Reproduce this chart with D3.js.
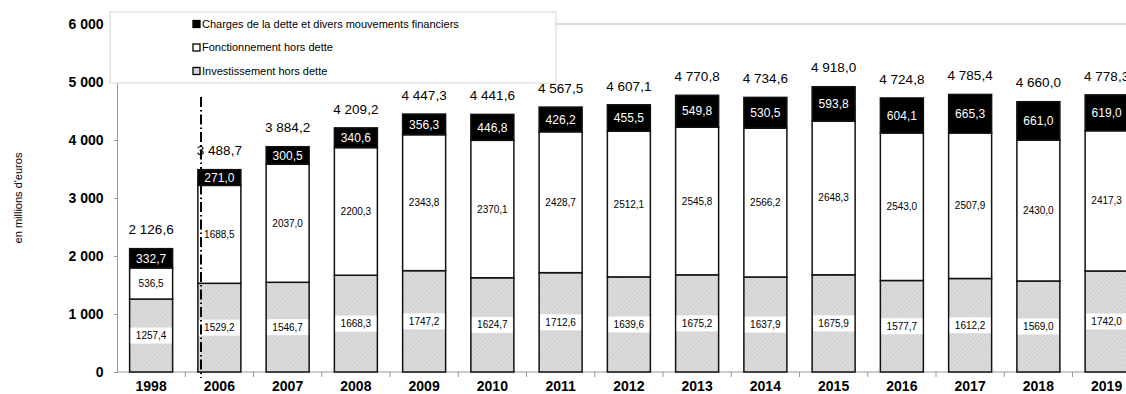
<!DOCTYPE html>
<html>
<head>
<meta charset="utf-8">
<script src="https://cdn.jsdelivr.net/npm/d3@7"></script>
<style>
  body { margin: 0; background: #fff; }
  svg { font-family: "Liberation Sans", Arial, sans-serif; display: block; }
</style>
</head>
<body>
<div id="chart"></div>
<script>
const width = 1126,
  height = 394

// data
const years = ["1998", "2006", "2007", "2008", "2009", "2010", "2011", "2012", "2013", "2014", "2015", "2016", "2017", "2018", "2019"]
const invest = [1257.4, 1529.2, 1546.7, 1668.3, 1747.2, 1624.7, 1712.6, 1639.6, 1675.2, 1637.9, 1675.9, 1577.7, 1612.2, 1569.0, 1742.0]
const fonct = [536.5, 1688.5, 2037.0, 2200.3, 2343.8, 2370.1, 2428.7, 2512.1, 2545.8, 2566.2, 2648.3, 2543.0, 2507.9, 2430.0, 2417.3]
const charges = [332.7, 271.0, 300.5, 340.6, 356.3, 446.8, 426.2, 455.5, 549.8, 530.5, 593.8, 604.1, 665.3, 661.0, 619.0]
const totals = [2126.6, 3488.7, 3884.2, 4209.2, 4447.3, 4441.6, 4567.5, 4607.1, 4770.8, 4734.6, 4918.0, 4724.8, 4785.4, 4660.0, 4778.3]
const yTicks = [0, 1000, 2000, 3000, 4000, 5000, 6000]
const legendItems = [
  ["charges", "Charges de la dette et divers mouvements financiers"],
  ["fonct", "Fonctionnement hors dette"],
  ["invest", "Investissement hors dette"]
]

const fr = d3.formatLocale({ decimal: ",", thousands: " ", grouping: [3], currency: ["", " €"] })
const fmtTotal = fr.format(",.1f")
const fmtSeg = fr.format(".1f")
const fmtTick = fr.format(",d")

const svg = d3.select("#chart").append("svg")
  .attr("width", width)
  .attr("height", height)

// hatch pattern for investissement
const defs = svg.append("defs")
const pat = defs.append("pattern")
  .attr("id", "hatch")
  .attr("patternUnits", "userSpaceOnUse")
  .attr("width", 3)
  .attr("height", 3)
  .attr("patternTransform", "rotate(45)")
pat.append("rect").attr("width", 3).attr("height", 3).attr("fill", "#dcdcdc")
pat.append("line").attr("x1", 0).attr("y1", 0).attr("x2", 0).attr("y2", 3)
  .attr("stroke", "#c2c2c2").attr("stroke-width", 1)

const fills = { invest: "url(#hatch)", fonct: "#fff", charges: "#000" }

const y = d3.scaleLinear().domain([0, 6000]).range([372, 24])
const x = d3.scaleBand()
  .domain(years)
  .range([117, 117 + 15 * 68.25])
  .paddingInner(0.37)
  .paddingOuter(0.185)

// top border line
svg.append("line")
  .attr("x1", 117).attr("x2", width)
  .attr("y1", y(6000)).attr("y2", y(6000))
  .attr("stroke", "#cfcfcf").attr("stroke-width", 1.5)

// y axis
const yAxis = svg.append("g")
  .attr("transform", "translate(117,0)")
  .call(d3.axisLeft(y).tickValues(yTicks).tickSize(3).tickFormat(fmtTick))
yAxis.select(".domain").attr("stroke", "#999")
yAxis.selectAll(".tick line").attr("stroke", "#999")
yAxis.selectAll(".tick text")
  .attr("x", -13.5)
  .attr("font-size", 14)
  .attr("font-weight", "bold")
  .attr("fill", "#000")
  .attr("font-family", "Liberation Sans, Arial, sans-serif")

// x axis
const xg = svg.append("g").attr("transform", "translate(0,372)")
xg.append("line")
  .attr("x1", 117).attr("x2", width)
  .attr("stroke", "#999").attr("stroke-width", 1)
xg.selectAll(".xtick")
  .data(years.slice(1))
  .join("line")
  .attr("x1", d => x(d) - x.step() * x.paddingInner() / 2)
  .attr("x2", d => x(d) - x.step() * x.paddingInner() / 2)
  .attr("y1", 0).attr("y2", 5)
  .attr("stroke", "#999")
xg.selectAll(".xlabel")
  .data(years)
  .join("text")
  .attr("x", d => x(d) + x.bandwidth() / 2)
  .attr("y", 18.5)
  .attr("text-anchor", "middle")
  .attr("font-size", 14)
  .attr("font-weight", "bold")
  .text(d => d)

// axis title
svg.append("text")
  .attr("transform", "translate(22,198) rotate(-90)")
  .attr("text-anchor", "middle")
  .attr("font-size", 11)
  .text("en millions d'euros")

// stacked bars
const rows = years.map((yr, i) => ({ year: yr, invest: invest[i], fonct: fonct[i], charges: charges[i], total: totals[i] }))
const stack = d3.stack().keys(["invest", "fonct", "charges"])(rows)

const bars = svg.append("g")
stack.forEach(layer => {
  bars.selectAll(".seg-" + layer.key)
    .data(layer)
    .join("rect")
    .attr("x", d => x(d.data.year))
    .attr("width", x.bandwidth())
    .attr("y", d => y(d[1]))
    .attr("height", d => y(d[0]) - y(d[1]))
    .attr("fill", fills[layer.key])
    .attr("stroke", "#111")
    .attr("stroke-width", 1.5)
})

// investissement labels on white strip
const investLayer = stack[0]
bars.selectAll(".inv-bg")
  .data(investLayer)
  .join("rect")
  .attr("x", d => x(d.data.year) + 1)
  .attr("width", x.bandwidth() - 2)
  .attr("y", d => y((d[0] + d[1]) / 2) - 8)
  .attr("height", 16)
  .attr("fill", "#fff")
bars.selectAll(".inv-lbl")
  .data(investLayer)
  .join("text")
  .attr("x", d => x(d.data.year) + x.bandwidth() / 2)
  .attr("y", d => y((d[0] + d[1]) / 2))
  .attr("dy", "0.35em")
  .attr("text-anchor", "middle")
  .attr("font-size", 10)
  .text(d => fmtSeg(d.data.invest))

bars.selectAll(".fon-lbl")
  .data(stack[1])
  .join("text")
  .attr("x", d => x(d.data.year) + x.bandwidth() / 2)
  .attr("y", d => y((d[0] + d[1]) / 2))
  .attr("dy", "0.35em")
  .attr("text-anchor", "middle")
  .attr("font-size", 10)
  .text(d => fmtSeg(d.data.fonct))

bars.selectAll(".cha-lbl")
  .data(stack[2])
  .join("text")
  .attr("x", d => x(d.data.year) + x.bandwidth() / 2)
  .attr("y", d => y((d[0] + d[1]) / 2))
  .attr("dy", "0.35em")
  .attr("text-anchor", "middle")
  .attr("font-size", 12)
  .attr("fill", "#fff")
  .text(d => fmtSeg(d.data.charges))

// totals
bars.selectAll(".tot-lbl")
  .data(rows)
  .join("text")
  .attr("x", d => x(d.year) + x.bandwidth() / 2)
  .attr("y", d => y(d.total) - 19)
  .attr("dy", "0.35em")
  .attr("text-anchor", "middle")
  .attr("font-size", 13.5)
  .text(d => fmtTotal(d.total))

// legend
const lg = svg.append("g")
lg.append("rect")
  .attr("x", 110).attr("y", 12)
  .attr("width", 446).attr("height", 71)
  .attr("fill", "#fff")
  .attr("stroke", "#d6d6d6")
const li = lg.selectAll(".li")
  .data(legendItems)
  .join("g")
  .attr("transform", (d, i) => `translate(193,${24 + i * 23.5})`)
li.append("rect")
  .attr("x", 0).attr("y", -3.5)
  .attr("width", 7).attr("height", 7)
  .attr("fill", d => fills[d[0]])
  .attr("stroke", "#000")
  .attr("stroke-width", 1.3)
li.append("text")
  .attr("x", 9)
  .attr("dy", "0.35em")
  .attr("font-size", 11)
  .text(d => d[1])

// dash-dot separator between 1998 and later years
svg.append("line")
  .attr("x1", 201).attr("x2", 201)
  .attr("y1", 97).attr("y2", 378)
  .attr("stroke", "#000")
  .attr("stroke-width", 2)
  .attr("stroke-dasharray", "10,3,1.5,3")
</script>
</body>
</html>
